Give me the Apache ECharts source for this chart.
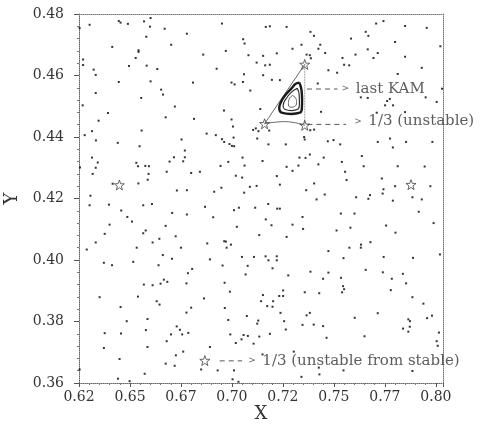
<!DOCTYPE html>
<html><head><meta charset="utf-8">
<script src="https://cdn.jsdelivr.net/npm/echarts@6/dist/echarts.min.js"></script>
<style>html,body{margin:0;padding:0;background:#fff}#c{width:487px;height:427px}</style>
</head><body><div id="c"></div>
<script>
// ---- axis settings / tick labels ----
const X_MIN = 0.625, X_MAX = 0.8035, X_STEP = 0.025;
const Y_MIN = 0.36, Y_MAX = 0.48, Y_STEP = 0.02;
const xTickLabels = ['0.62','0.65','0.67','0.70','0.72','0.75','0.77','0.80'];
const yTickLabels = ['0.36','0.38','0.40','0.42','0.44','0.46','0.48'];
const xName = 'X', yName = 'Y';

// ---- Poincaré section points ----
const dotsUpperLeft = [[0.6302,0.4765],[0.6445,0.4777],[0.6454,0.4772],[0.6490,0.4768],[0.6569,0.4776],[0.6601,0.4787],[0.6598,0.4759],[0.6670,0.4752],[0.6253,0.4754],[0.6779,0.4736],[0.6580,0.4726],[0.6413,0.4693],[0.6702,0.4700],[0.6542,0.4682],[0.6542,0.4677],[0.6528,0.4657],[0.6270,0.4652],[0.6270,0.4634],[0.6495,0.4631],[0.6582,0.4632],[0.6322,0.4619],[0.6634,0.4621],[0.6332,0.4602],[0.6445,0.4579],[0.6601,0.4581],[0.6809,0.4577],[0.6653,0.4554],[0.6662,0.4538],[0.6332,0.4543],[0.6555,0.4527],[0.6268,0.4503],[0.6720,0.4499],[0.6392,0.4478],[0.6675,0.4464],[0.6814,0.4459],[0.6346,0.4453],[0.6314,0.4419],[0.6557,0.4421],[0.6278,0.4406],[0.6753,0.4392],[0.6333,0.4389],[0.6440,0.4381],[0.6547,0.4370],[0.6769,0.4356],[0.6314,0.4333],[0.6716,0.4334],[0.6769,0.4334],[0.6342,0.4317],[0.6531,0.4316],[0.6539,0.4305],[0.6575,0.4306],[0.6593,0.4305],[0.6694,0.4320],[0.6761,0.4321],[0.6332,0.4300],[0.6255,0.4301],[0.6680,0.4287],[0.6800,0.4283],[0.6843,0.4287],[0.6317,0.4280],[0.6591,0.4280],[0.6587,0.4261],[0.6415,0.4248],[0.6541,0.4249],[0.6730,0.4226],[0.6779,0.4227],[0.6306,0.4209]];
const dotsUpperMid = [[0.6951,0.4769],[0.7166,0.4758],[0.7186,0.4760],[0.7268,0.4758],[0.7385,0.4742],[0.7402,0.4729],[0.7055,0.4718],[0.7062,0.4704],[0.7341,0.4700],[0.7433,0.4700],[0.7424,0.4687],[0.6859,0.4668],[0.6970,0.4680],[0.7220,0.4672],[0.7297,0.4687],[0.7081,0.4666],[0.7153,0.4664],[0.7366,0.4668],[0.7382,0.4666],[0.7387,0.4656],[0.7121,0.4642],[0.7163,0.4633],[0.7186,0.4635],[0.6925,0.4622],[0.7059,0.4604],[0.7153,0.4601],[0.6998,0.4577],[0.7013,0.4571],[0.7054,0.4579],[0.7196,0.4586],[0.7235,0.4585],[0.7421,0.4574],[0.7090,0.4551],[0.6961,0.4486],[0.7139,0.4491],[0.7437,0.4482],[0.6998,0.4457],[0.7005,0.4434],[0.7104,0.4423],[0.7117,0.4428],[0.7130,0.4419],[0.7183,0.4421],[0.7384,0.4422],[0.7403,0.4424],[0.6876,0.4411],[0.6921,0.4406],[0.7008,0.4398],[0.7354,0.4400],[0.7357,0.4392],[0.6951,0.4393],[0.6962,0.4384],[0.7124,0.4395],[0.6988,0.4377],[0.7000,0.4371],[0.7011,0.4370],[0.7179,0.4376],[0.7264,0.4376],[0.7052,0.4333],[0.7150,0.4322],[0.7331,0.4333],[0.7361,0.4332],[0.7382,0.4343],[0.7450,0.4333],[0.6982,0.4319],[0.6944,0.4306],[0.7062,0.4307],[0.7268,0.4303],[0.7326,0.4307],[0.7424,0.4311],[0.7297,0.4290],[0.7019,0.4274],[0.7050,0.4268],[0.7220,0.4273],[0.7088,0.4238],[0.7121,0.4241],[0.7235,0.4245],[0.7403,0.4249],[0.6948,0.4235],[0.6913,0.4222],[0.7060,0.4219],[0.7364,0.4227],[0.7415,0.4197]];
const dotsUpperRight = [[0.7707,0.4769],[0.7743,0.4777],[0.7849,0.4761],[0.7955,0.4755],[0.7656,0.4742],[0.7669,0.4729],[0.7584,0.4720],[0.7800,0.4709],[0.8022,0.4695],[0.7457,0.4673],[0.7666,0.4685],[0.7715,0.4673],[0.7606,0.4668],[0.7542,0.4657],[0.7694,0.4657],[0.7849,0.4661],[0.7550,0.4635],[0.7575,0.4633],[0.7473,0.4617],[0.7516,0.4609],[0.7813,0.4605],[0.7931,0.4625],[0.7632,0.4529],[0.7666,0.4527],[0.7761,0.4517],[0.7774,0.4524],[0.7751,0.4503],[0.7790,0.4503],[0.8004,0.4514],[0.7950,0.4529],[0.8030,0.4557],[0.7710,0.4479],[0.7849,0.4481],[0.7470,0.4386],[0.7498,0.4390],[0.7531,0.4376],[0.7775,0.4395],[0.7715,0.4384],[0.7854,0.4384],[0.7983,0.4384],[0.7637,0.4338],[0.7789,0.4366],[0.7539,0.4319],[0.7646,0.4305],[0.7813,0.4305],[0.7945,0.4304],[0.7555,0.4287],[0.7562,0.4260],[0.7735,0.4265],[0.7743,0.4230],[0.7739,0.4216],[0.7800,0.4240],[0.7973,0.4240],[0.7885,0.4204],[0.7455,0.4213],[0.7609,0.4204],[0.7677,0.4211]];
const dotsLowerLeft = [[0.6302,0.4178],[0.6397,0.4180],[0.6565,0.4178],[0.6608,0.4182],[0.6457,0.4161],[0.6707,0.4153],[0.6779,0.4148],[0.6487,0.4140],[0.6510,0.4125],[0.6400,0.4115],[0.6675,0.4111],[0.6577,0.4096],[0.6565,0.4087],[0.6376,0.4085],[0.6724,0.4077],[0.6644,0.4069],[0.6611,0.4057],[0.6332,0.4057],[0.6533,0.4040],[0.6750,0.4040],[0.6288,0.4034],[0.6661,0.4016],[0.6706,0.4004],[0.6372,0.3991],[0.6412,0.3983],[0.6516,0.3994],[0.6640,0.3983],[0.6805,0.3971],[0.6784,0.3957],[0.6666,0.3936],[0.6683,0.3929],[0.6650,0.3923],[0.6568,0.3920],[0.6611,0.3918],[0.6777,0.3924],[0.6351,0.3879],[0.6539,0.3881],[0.6631,0.3866],[0.6645,0.3855],[0.6454,0.3847],[0.6800,0.3845],[0.6777,0.3829],[0.6586,0.3808],[0.6484,0.3801],[0.6729,0.3784],[0.6745,0.3773],[0.6578,0.3772],[0.6376,0.3762],[0.6456,0.3761],[0.6701,0.3758],[0.6756,0.3758],[0.6786,0.3763],[0.6680,0.3736],[0.6372,0.3714],[0.6586,0.3717],[0.6761,0.3702],[0.6725,0.3690],[0.6449,0.3678],[0.6675,0.3663],[0.6719,0.3656],[0.6253,0.3644],[0.6849,0.3644],[0.6572,0.3630],[0.6441,0.3614],[0.6498,0.3606]];
const dotsLowerMid = [[0.6868,0.4173],[0.7010,0.4162],[0.7034,0.4170],[0.7114,0.4170],[0.7178,0.4182],[0.7222,0.4167],[0.7235,0.4167],[0.6908,0.4139],[0.7166,0.4132],[0.7194,0.4113],[0.7297,0.4115],[0.7346,0.4140],[0.7024,0.4108],[0.7349,0.4101],[0.7134,0.4081],[0.7268,0.4075],[0.6879,0.4054],[0.6962,0.4061],[0.6970,0.4060],[0.6995,0.4050],[0.6974,0.4040],[0.6892,0.4002],[0.7049,0.4010],[0.7108,0.4010],[0.7165,0.4012],[0.7179,0.3999],[0.7220,0.4012],[0.7220,0.3999],[0.6954,0.3982],[0.7077,0.3981],[0.7199,0.3973],[0.7067,0.3953],[0.7385,0.3962],[0.7276,0.3950],[0.7447,0.3939],[0.6964,0.3926],[0.6863,0.3875],[0.6990,0.3897],[0.7251,0.3901],[0.7232,0.3883],[0.7251,0.3883],[0.7152,0.3886],[0.7357,0.3895],[0.7428,0.3892],[0.7143,0.3866],[0.7202,0.3866],[0.7199,0.3848],[0.7173,0.3850],[0.6965,0.3844],[0.7238,0.3828],[0.7382,0.3828],[0.7366,0.3820],[0.7073,0.3818],[0.7129,0.3803],[0.7124,0.3793],[0.6982,0.3805],[0.7256,0.3801],[0.7346,0.3789],[0.7401,0.3790],[0.7447,0.3785],[0.7264,0.3774],[0.6992,0.3758],[0.7057,0.3756],[0.7078,0.3753],[0.7134,0.3751],[0.7186,0.3760],[0.7019,0.3730],[0.7047,0.3742],[0.7106,0.3728],[0.6892,0.3717],[0.7150,0.3693],[0.7303,0.3702],[0.6930,0.3641],[0.7010,0.3641],[0.7426,0.3650],[0.7429,0.3628],[0.7003,0.3612],[0.7032,0.3604],[0.7341,0.3620]];
const dotsLowerRight = [[0.7669,0.4199],[0.7789,0.4193],[0.7931,0.4197],[0.7534,0.4151],[0.7601,0.4151],[0.7916,0.4157],[0.7989,0.4120],[0.7756,0.4112],[0.7581,0.4105],[0.7513,0.4096],[0.7802,0.4089],[0.7679,0.4058],[0.7633,0.4050],[0.7632,0.4040],[0.7576,0.4040],[0.7473,0.4029],[0.8020,0.4018],[0.7547,0.4006],[0.7744,0.4010],[0.7888,0.4007],[0.7656,0.3968],[0.7473,0.3959],[0.7740,0.3960],[0.7838,0.3955],[0.7535,0.3942],[0.7784,0.3939],[0.7545,0.3915],[0.7550,0.3905],[0.7540,0.3895],[0.7854,0.3924],[0.7779,0.3902],[0.7885,0.3879],[0.7939,0.3858],[0.7602,0.3812],[0.7715,0.3827],[0.7981,0.3819],[0.7957,0.3811],[0.7865,0.3807],[0.7873,0.3801],[0.7839,0.3777],[0.7872,0.3783],[0.7865,0.3767],[0.8015,0.3764],[0.7464,0.3747],[0.7650,0.3752],[0.8004,0.3736],[0.8009,0.3721],[0.7547,0.3641],[0.7885,0.3639]];

// ---- periodic orbits (stars) ----
const stars = [[0.6448,0.4244],[0.7878,0.4245],[0.6867,0.3673],[0.7160,0.4443],[0.7357,0.4636],[0.7357,0.4438]];
// triangle through the unstable period-3 points
const triSideAB = [[0.7160,0.4443],[0.7357,0.4636]];
const triSideBC = [[0.7357,0.4636],[0.7357,0.4438]];
const triSideAC = [[0.7160,0.4443],[0.7259,0.4450],[0.7357,0.4438]];
// KAM curves
const kamOuter = [[0.7330,0.4577],[0.7341,0.4553],[0.7344,0.4521],[0.7343,0.4494],[0.7333,0.4479],[0.7292,0.4475],[0.7243,0.4479],[0.7232,0.4494],[0.7238,0.4510],[0.7259,0.4534],[0.7292,0.4558],[0.7313,0.4573],[0.7330,0.4577]];
const kamMiddle = [[0.7320,0.4558],[0.7330,0.4537],[0.7331,0.4504],[0.7323,0.4490],[0.7292,0.4486],[0.7259,0.4490],[0.7251,0.4502],[0.7264,0.4523],[0.7292,0.4546],[0.7320,0.4558]];
const kamInner = [[0.7297,0.4535],[0.7313,0.4526],[0.7317,0.4512],[0.7307,0.4499],[0.7290,0.4497],[0.7277,0.4504],[0.7279,0.4521],[0.7297,0.4535]];

// ---- annotations ----
const annotKamLine = [[0.7368,0.4556],[0.7518,0.4556]];
const annotUnstLine = [[0.7370,0.4441],[0.7560,0.4441]];
const annotBotLine = [[0.6940,0.3672],[0.7050,0.3672]];
const annotTexts = ['last KAM', '1/3 (unstable)', '1/3 (unstable from stable)'];

const FONT = 'DejaVu Serif';
const starPath = 'path://M50 0 L61.8 33.8 L97.6 34.5 L69 56.2 L79.4 90.5 L50 70 L20.6 90.5 L31 56.2 L2.4 34.5 L38.2 33.8 Z';

function xFmt(v){ const k=(v-X_MIN)/X_STEP, i=Math.round(k); return (Math.abs(k-i)<1e-6 && i>=0 && i<xTickLabels.length)? xTickLabels[i] : ''; }
function yFmt(v){ const k=(v-Y_MIN)/Y_STEP, i=Math.round(k); return (Math.abs(k-i)<1e-6 && i>=0 && i<yTickLabels.length)? yTickLabels[i] : ''; }

const chart = echarts.init(document.getElementById('c'), null, {renderer:'canvas'});
const lineBase = {type:'line', showSymbol:false, symbol:'none', silent:true, xAxisIndex:0, yAxisIndex:0, z:3};
const dotSeries = (d)=>({type:'scatter', data:d, symbol:'rect', symbolSize:2, itemStyle:{color:'#000'}, silent:true, z:2});
const rich = {a:{fontFamily:FONT, fontSize:9, color:'#333'}, t:{fontFamily:FONT, fontSize:15, color:'#333'}};
function labelPoint(pt, text, dist, off){
  return {type:'scatter', data:[pt], symbolSize:0, silent:true, z:5,
    label:{show:true, position:'right', distance:dist, offset:off, formatter:'{a|>}  {t|'+text+'}', rich:rich}};
}

chart.setOption({
  animation:false,
  backgroundColor:'#fff',
  grid:{left:79, right:44, top:14, bottom:44, containLabel:false, outerBoundsMode:'none'},
  xAxis:[{
    type:'value', min:X_MIN, max:X_MAX, interval:X_STEP,
    name:xName, nameLocation:'middle', nameGap:22, nameMoveOverlap:false,
    nameTextStyle:{fontFamily:FONT, fontSize:18, color:'#333'},
    axisLine:{show:true, lineStyle:{color:'#666', type:'dotted', width:1}},
    axisTick:{show:true, length:4, lineStyle:{color:'#555'}},
    minorTick:{show:true, splitNumber:5, length:2, lineStyle:{color:'#777'}},
    axisLabel:{formatter:xFmt, fontFamily:FONT, fontSize:14, color:'#333', margin:7},
    splitLine:{show:false}
  },{
    type:'value', position:'top', min:X_MIN, max:X_MAX, interval:X_STEP,
    axisLine:{show:true, lineStyle:{color:'#777', type:'dotted', width:1}},
    axisTick:{show:false}, axisLabel:{show:false}, splitLine:{show:false}
  }],
  yAxis:[{
    type:'value', min:Y_MIN, max:Y_MAX, interval:Y_STEP,
    name:yName, nameLocation:'middle', nameGap:58, nameRotate:90, nameMoveOverlap:false,
    nameTextStyle:{fontFamily:FONT, fontSize:18, color:'#333'},
    axisLine:{show:true, lineStyle:{color:'#666', type:'dotted', width:1}},
    axisTick:{show:true, length:5, lineStyle:{color:'#555'}},
    minorTick:{show:true, splitNumber:5, length:2, lineStyle:{color:'#777'}},
    axisLabel:{formatter:yFmt, fontFamily:FONT, fontSize:14, color:'#333', margin:15},
    splitLine:{show:false}
  },{
    type:'value', position:'right', min:Y_MIN, max:Y_MAX, interval:Y_STEP,
    axisLine:{show:true, lineStyle:{color:'#777', type:'dotted', width:1}},
    axisTick:{show:false}, axisLabel:{show:false}, splitLine:{show:false}
  }],
  series:[
    dotSeries(dotsUpperLeft), dotSeries(dotsUpperMid), dotSeries(dotsUpperRight),
    dotSeries(dotsLowerLeft), dotSeries(dotsLowerMid), dotSeries(dotsLowerRight),
    Object.assign({}, lineBase, {data:triSideAB, lineStyle:{color:'#444', width:0.8}}),
    Object.assign({}, lineBase, {data:triSideBC, lineStyle:{color:'#555', width:0.8, type:'dotted'}}),
    Object.assign({}, lineBase, {data:triSideAC, smooth:true, lineStyle:{color:'#444', width:0.8}}),
    Object.assign({}, lineBase, {data:kamOuter, smooth:true, lineStyle:{color:'#1a1a1a', width:2.4}}),
    Object.assign({}, lineBase, {data:kamMiddle, smooth:true, lineStyle:{color:'#333', width:1.2}}),
    Object.assign({}, lineBase, {data:kamInner, smooth:true, lineStyle:{color:'#555', width:0.9}}),
    Object.assign({}, lineBase, {data:annotKamLine, lineStyle:{color:'#444', width:0.9, type:[5,4]}}),
    Object.assign({}, lineBase, {data:annotUnstLine, lineStyle:{color:'#444', width:0.9, type:[5,4]}}),
    Object.assign({}, lineBase, {data:annotBotLine, lineStyle:{color:'#444', width:0.9, type:[5,4]}}),
    {type:'scatter', data:stars, symbol:starPath, symbolSize:10, silent:true, z:4,
      itemStyle:{color:'rgba(255,255,255,0)', borderColor:'#444', borderWidth:1}},
    labelPoint(annotKamLine[1], annotTexts[0], 4, [0,0]),
    labelPoint(annotUnstLine[1], annotTexts[1], 8, [0,-3]),
    labelPoint(annotBotLine[1], annotTexts[2], 6, [0,0])
  ]
});
</script></body></html>
